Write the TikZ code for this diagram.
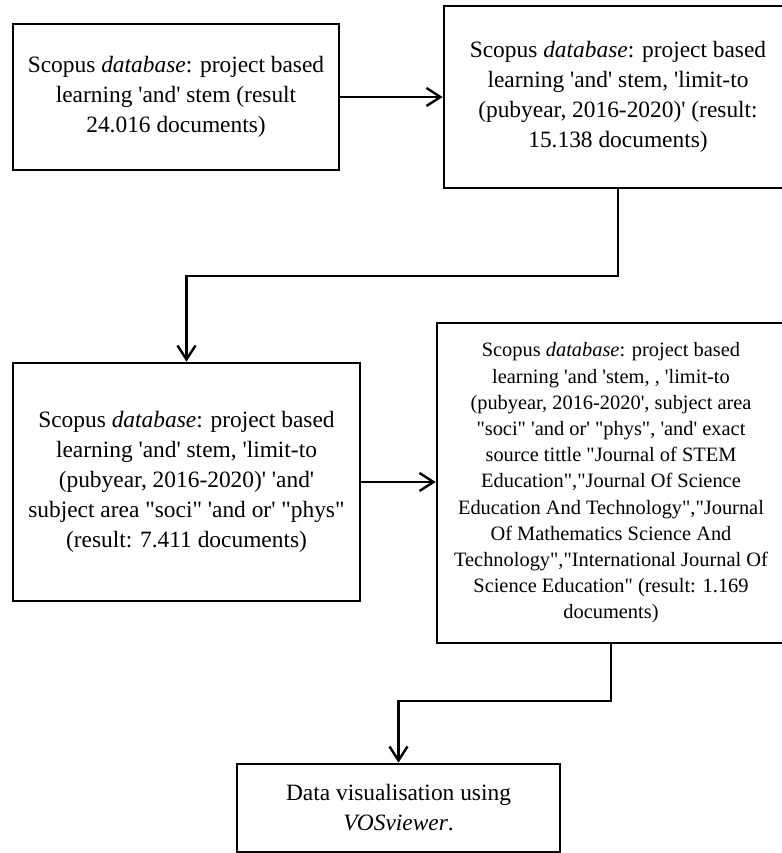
\documentclass[tikz,border=0pt]{standalone}
\usepackage{fontspec}
\usepackage{tikz}
\usetikzlibrary{arrows.meta}
\newfontfamily\boxfont{Liberation Serif}

\begin{document}
\begin{tikzpicture}[x=0.5pt, y=-0.5pt,
    every node/.style={draw, rectangle, line width=1.3pt, align=center, inner sep=0pt,
        font=\boxfont\fontsize{11.7}{15}\selectfont},
    link/.style={line width=1.2pt, -{Straight Barb[length=7pt, width=9pt]}}]
                \useasboundingbox (0,0) rectangle (782,853);
                \clip (0,0) rectangle (782,853);

                \node[minimum width=163pt, minimum height=73pt] (A) at (176,97)
                    {Scopus \textit{database}: project based\\ learning 'and' stem (result\\ 24.016 documents)};
                \node[minimum width=174pt, minimum height=91pt] (B) at (618,97)
                    {Scopus \textit{database}: project based\\ learning 'and' stem, 'limit-to\\ (pubyear, 2016-2020)' (result:\\ 15.138 documents)};
                \node[minimum width=173.5pt, minimum height=119pt] (C) at (186.5,482)
                    {Scopus \textit{database}: project based\\ learning 'and' stem, 'limit-to\\ (pubyear, 2016-2020)' 'and'\\ subject area "soci" 'and or' "phys"\\ (result: 7.411 documents)};
                \node[minimum width=174pt, minimum height=160pt, font=\boxfont\fontsize{10.2}{13.1}\selectfont] (D) at (611,483)
                    {Scopus \textit{database}: project based\\ learning 'and 'stem, , 'limit-to\\ (pubyear, 2016-2020', subject area\\ "soci" 'and or' "phys", 'and' exact\\ source tittle "Journal of STEM\\ Education","Journal Of Science\\ Education And Technology","Journal\\ Of Mathematics Science And\\ Technology","International Journal Of\\ Science Education" (result: 1.169\\ documents)};
                \node[minimum width=161.5pt, minimum height=44pt] (E) at (398.5,808)
                    {Data visualisation using\\ \textit{VOSviewer}.};

                \coordinate (K1) at (0,276);
                \coordinate (K2) at (0,701);

                \draw[link] (A.east) -- (A.east -| B.west);
                \draw[link] (B.south) -- (B.south |- K1) -| (C.north);
                \draw[link] (C.east) -- (C.east -| D.west);
                \draw[link] (D.south) -- (D.south |- K2) -| (E.north);
            \end{tikzpicture}
\end{document}
